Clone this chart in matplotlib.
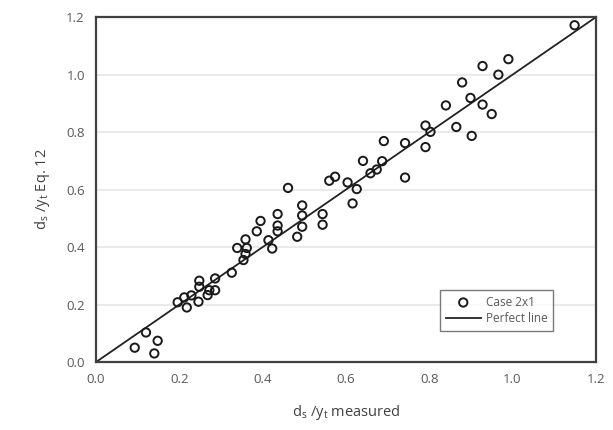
import numpy as np
import matplotlib.pyplot as plt

plt.rcParams['font.family'] = ['Open Sans', 'DejaVu Sans']

# d_s/y_t measured vs. Eq. 12
measured = [0.093, 0.120, 0.148, 0.140, 0.196, 0.212, 0.218, 0.229, 0.248, 0.248,
            0.246, 0.268, 0.272, 0.286, 0.286, 0.326, 0.339, 0.359, 0.362, 0.359,
            0.354, 0.386, 0.395, 0.414, 0.423, 0.436, 0.436, 0.436, 0.461, 0.483,
            0.495, 0.495, 0.495, 0.544, 0.544, 0.560, 0.574, 0.604, 0.616, 0.626,
            0.641, 0.659, 0.674, 0.687, 0.691, 0.742, 0.742, 0.791, 0.791, 0.803,
            0.840, 0.865, 0.879, 0.899, 0.902, 0.928, 0.928, 0.950, 0.966, 0.990,
            1.149]
predicted = [0.050, 0.103, 0.074, 0.030, 0.208, 0.225, 0.190, 0.232, 0.283, 0.262,
             0.210, 0.233, 0.250, 0.250, 0.291, 0.311, 0.397, 0.427, 0.397, 0.376,
             0.355, 0.455, 0.491, 0.424, 0.395, 0.515, 0.475, 0.455, 0.606, 0.436,
             0.545, 0.510, 0.471, 0.515, 0.478, 0.631, 0.645, 0.625, 0.552, 0.602,
             0.700, 0.657, 0.670, 0.699, 0.769, 0.762, 0.642, 0.748, 0.823, 0.801,
             0.893, 0.818, 0.973, 0.919, 0.787, 1.030, 0.896, 0.863, 1.000, 1.054,
             1.172]
perfect = [0.0, 1.2]
ticks = [0.0, 0.2, 0.4, 0.6, 0.8, 1.0, 1.2]

fig = plt.figure(figsize=(6.13, 4.30), dpi=100)
ax = fig.add_axes([0.1566, 0.158, 0.8154, 0.802])

ax.scatter(measured, predicted, s=36, facecolors='none', edgecolors='#1a1a1a',
           linewidths=1.4, label='Case 2x1', zorder=3)
ax.plot(perfect, perfect, color='#222222', lw=1.3, label='Perfect line', zorder=2)

ax.set_xlim(0, 1.2)
ax.set_ylim(0, 1.2)
ax.set_xticks(ticks)
ax.set_yticks(ticks)
ax.set_xticklabels([f'{t:.1f}' for t in ticks])
ax.set_yticklabels([f'{t:.1f}' for t in ticks])
ax.tick_params(length=0, labelsize=9.5, colors='#595959', pad=8)
ax.yaxis.grid(True, color='#e6e6e6', lw=1.2)
ax.set_axisbelow(True)
for sp in ax.spines.values():
    sp.set_color('#404040')
    sp.set_linewidth(1.6)

ax.set_xlabel(r'd$_\mathregular{s}$ /y$_\mathregular{t}$ measured', fontsize=10.5,
              color='#404040', labelpad=12)
ax.set_ylabel(r'd$_\mathregular{s}$ /y$_\mathregular{t}$ Eq. 12', fontsize=10.5,
              color='#404040', labelpad=10)

leg = ax.legend(loc='lower right', bbox_to_anchor=(0.915, 0.09), fontsize=8.5,
                frameon=True, fancybox=False, edgecolor='#595959', labelcolor='#595959',
                handlelength=3.0, borderpad=0.5, labelspacing=0.3, handletextpad=0.4,
                borderaxespad=0.0)
leg.get_frame().set_linewidth(1.0)

fig.savefig('out.png', dpi=100)
